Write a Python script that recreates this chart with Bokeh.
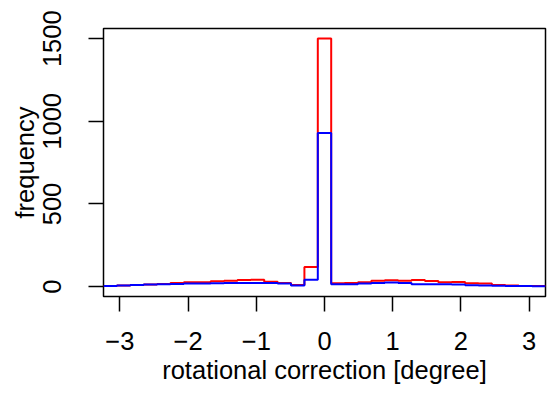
import numpy as np
from bokeh.plotting import figure
from bokeh.models import FixedTicker, CustomJSTickFormatter, Range1d
from bokeh.embed import file_html
from bokeh.resources import INLINE

# ---- data ----
bin_width = np.pi / 16
bin_index = list(range(-16, 17))  # bins centred on k * pi/16
red_counts = [4, 6, 10, 12, 16, 22, 26, 26, 32, 36, 40, 42, 30, 22, 10, 118,
              1502,
              20, 22, 26, 36, 38, 36, 40, 34, 26, 28, 20, 18, 10, 6, 4, 3]
blue_counts = [4, 6, 10, 12, 14, 16, 18, 18, 20, 22, 22, 22, 22, 18, 6, 42,
               930,
               14, 14, 18, 22, 24, 22, 14, 14, 14, 12, 8, 6, 5, 4, 3, 2]
x_ticks = [-3, -2, -1, 0, 1, 2, 3]
y_ticks = [0, 500, 1000, 1500]

edges = [(k - 0.5) * bin_width for k in bin_index] + [(bin_index[-1] + 0.5) * bin_width]

FONT = "Liberation Sans"
FS = "25.5px"

p = figure(width=552, height=398, output_backend="svg", toolbar_location=None,
           x_range=Range1d(-3.24, 3.24), y_range=Range1d(-60, 1562),
           min_border_left=103, min_border_right=7, min_border_top=28,
           min_border_bottom=102)
p.background_fill_color = "white"
p.border_fill_color = "white"
p.outline_line_color = "black"
p.outline_line_width = 1.5
p.xgrid.visible = False
p.ygrid.visible = False

p.step(x=edges, y=red_counts + [red_counts[-1]], mode="after",
       line_color="#FF0000", line_width=2)
p.step(x=edges, y=blue_counts + [blue_counts[-1]], mode="after",
       line_color="#0000FF", line_width=2)

minus_fmt = CustomJSTickFormatter(code="""
    return tick < 0 ? "\\u2212" + Math.abs(tick) : String(tick);
""")

for ax in (p.xaxis[0], p.yaxis[0]):
    ax.axis_line_color = None
    ax.major_tick_out = 15
    ax.major_tick_in = 0
    ax.major_tick_line_width = 1.5
    ax.major_tick_line_color = "black"
    ax.minor_tick_line_color = None
    ax.major_label_text_font = FONT
    ax.major_label_text_font_size = FS
    ax.major_label_text_color = "black"
    ax.axis_label_text_font = FONT
    ax.axis_label_text_font_size = FS
    ax.axis_label_text_font_style = "normal"
    ax.axis_label_text_color = "black"

p.xaxis[0].ticker = FixedTicker(ticks=x_ticks)
p.xaxis[0].formatter = minus_fmt
p.xaxis[0].major_label_standoff = 20
p.xaxis[0].axis_label = "rotational correction [degree]"
p.xaxis[0].axis_label_standoff = 3

p.yaxis[0].ticker = FixedTicker(ticks=y_ticks)
p.yaxis[0].major_label_orientation = "vertical"
p.yaxis[0].major_label_standoff = 27
p.yaxis[0].axis_label = "frequency"
p.yaxis[0].axis_label_standoff = 2

open("out.html", "w").write(file_html(p, INLINE))
